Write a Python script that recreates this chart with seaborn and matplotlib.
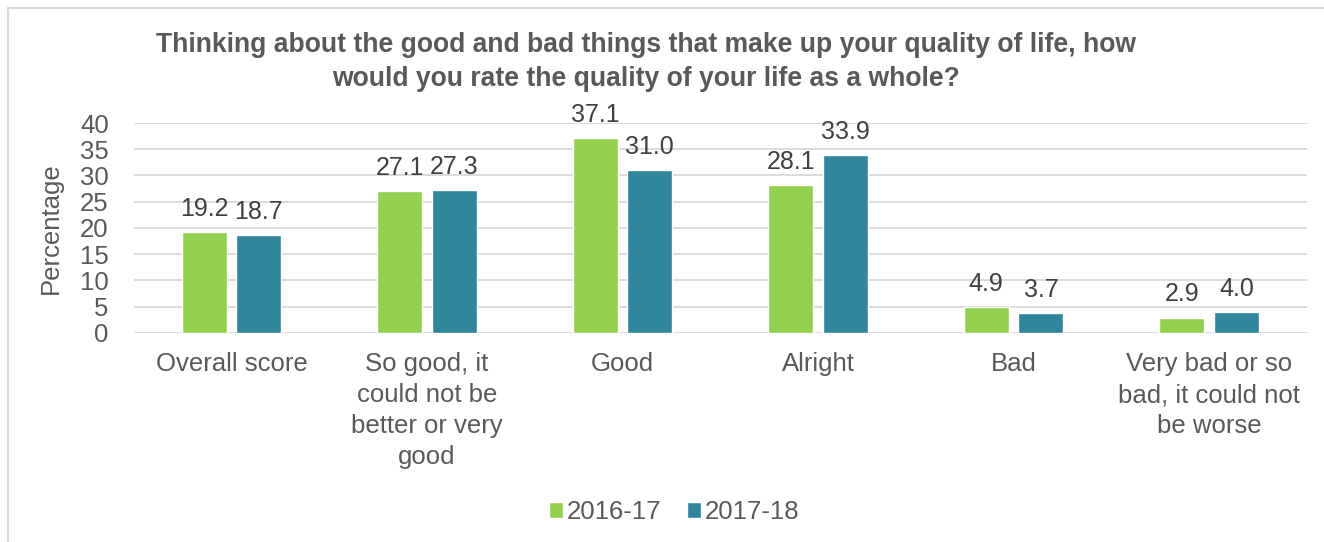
import matplotlib
matplotlib.use("Agg")
import matplotlib.pyplot as plt
import seaborn as sns
import pandas as pd
from matplotlib.patches import Rectangle

# data
categories = ["Overall score", "So good, it\ncould not be\nbetter or very\ngood", "Good",
              "Alright", "Bad", "Very bad or so\nbad, it could not\nbe worse"]
years = ["2016-17", "2017-18"]
values_1617 = [19.2, 27.1, 37.1, 28.1, 4.9, 2.9]
values_1718 = [18.7, 27.3, 31.0, 33.9, 3.7, 4.0]
yticks = [0, 5, 10, 15, 20, 25, 30, 35, 40]

df = pd.DataFrame({
    "Category": categories * 2,
    "Year": [years[0]] * len(categories) + [years[1]] * len(categories),
    "Percentage": values_1617 + values_1718,
})

sns.set_theme(style="white")
plt.rcParams["font.family"] = ["Liberation Sans", "DejaVu Sans"]
TXT = "#595959"
FS = 18.5

fig = plt.figure(figsize=(13.24, 5.42), dpi=100)
ax = fig.add_axes([0.101, 0.386, 0.886, 0.387])

sns.barplot(data=df, x="Category", y="Percentage", hue="Year", order=categories,
            hue_order=years, palette=["#92D050", "#31859C"], width=0.56, gap=0.18,
            saturation=1, ax=ax, legend=True)

for cont in ax.containers:
    ax.bar_label(cont, fmt="%.1f", padding=8, fontsize=18, color="#404040")

ax.set_ylim(0, 40)
ax.set_yticks(yticks)
ax.set_xlim(-0.5, len(categories) - 0.5)
ax.yaxis.grid(True, color="#D9D9D9", linewidth=1.3)
ax.set_axisbelow(True)
for s in ax.spines.values():
    s.set_visible(False)
ax.tick_params(axis="both", length=0, labelsize=FS, labelcolor=TXT)
ax.tick_params(axis="x", pad=14)
ax.tick_params(axis="y", pad=18)
for lbl in ax.get_xticklabels():
    lbl.set_linespacing(1.36)
    lbl.set_verticalalignment("top")
ax.set_xlabel("")
ax.set_ylabel("Percentage", fontsize=FS, color=TXT, labelpad=12)

leg = ax.legend(loc="center", bbox_to_anchor=(0.509, 0.055), bbox_transform=fig.transFigure,
                ncol=2, frameon=False, fontsize=FS, handlelength=0.55, handleheight=0.55,
                handletextpad=0.15, columnspacing=1.0)
for t in leg.get_texts():
    t.set_color(TXT)

fig.text(0.488, 0.886,
         "Thinking about the good and bad things that make up your quality of life, how\n"
         "would you rate the quality of your life as a whole?",
         ha="center", va="center", fontsize=19.1, fontweight="bold", color=TXT,
         linespacing=1.4)

fig.patches.append(Rectangle((8 / 1324, -0.1), 1.2, 1 - 8 / 542 + 0.1,
                             transform=fig.transFigure, fill=False,
                             edgecolor="#D9D9D9", linewidth=1.5))

fig.savefig("out.png", dpi=100)
